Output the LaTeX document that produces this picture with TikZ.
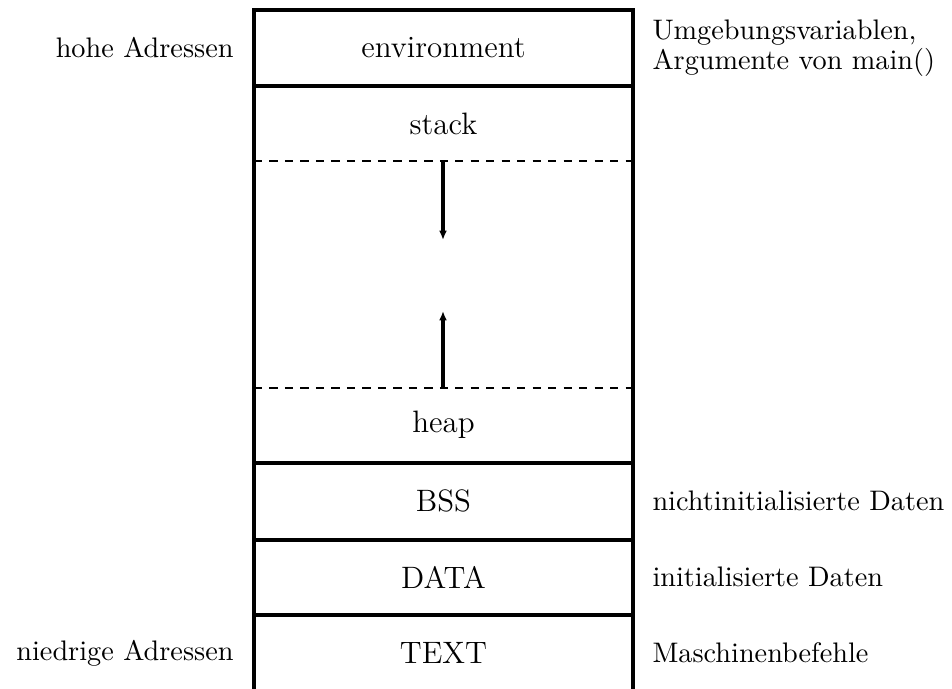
\documentclass[tikz,border=0pt]{standalone}
\usetikzlibrary{arrows.meta}
\begin{document}
\begin{tikzpicture}[x=0.3876pt,y=-0.3876pt,
  seg/.style={line width=1.3pt},
  dsh/.style={line width=0.85pt,dash pattern=on 3.2pt off 2.8pt},
  growarrow/.style={line width=1.3pt,-{Latex[length=3.6pt,width=3pt]}},
  boxtext/.style={font=\fontsize{12}{14.4}\selectfont,inner sep=0pt},
  lbl/.style={font=\fontsize{10.95}{11.6}\selectfont,inner sep=0pt,align=left}]
\useasboundingbox (0,0) rectangle (952,688);
% outer box
\draw[seg] (254,692) -- (254,10) -- (633,10) -- (633,692);
\draw[seg] (254,86) -- (633,86);
\draw[dsh] (254,161) -- (633,161);
\draw[dsh] (254,388) -- (633,388);
\draw[seg] (254,463) -- (633,463);
\draw[seg] (254,540) -- (633,540);
\draw[seg] (254,615) -- (633,615);
% section texts
\node[boxtext] (env) at (443.5,48) {environment};
\node[boxtext] (stack) at (443.5,124) {stack};
\node[boxtext] (heap) at (443.5,425) {heap};
\node[boxtext] (bss) at (443.5,501) {BSS};
\node[boxtext] (data) at (443.5,577) {DATA};
\node[boxtext] (text) at (443.5,653) {TEXT};
% growth arrows
\coordinate (sTop) at (443,161);
\coordinate (sTip) at (443,240);
\coordinate (hBot) at (443,388);
\coordinate (hTip) at (443,311);
\draw[growarrow] (sTop) -- (sTip);
\draw[growarrow] (hBot) -- (hTip);
% left labels
\node[lbl,anchor=east] (hi) at (234,48) {hohe Adressen};
\node[lbl,anchor=east] (lo) at (234,653) {niedrige Adressen};
% right labels
\node[lbl,anchor=west] (envl) at (652,48) {Umgebungsvariablen,\\Argumente von main()};
\node[lbl,anchor=west] (bssl) at (652,501) {nichtinitialisierte Daten};
\node[lbl,anchor=west] (datal) at (652,577) {initialisierte Daten};
\node[lbl,anchor=west] (textl) at (652,653) {Maschinenbefehle};
\end{tikzpicture}
\end{document}
